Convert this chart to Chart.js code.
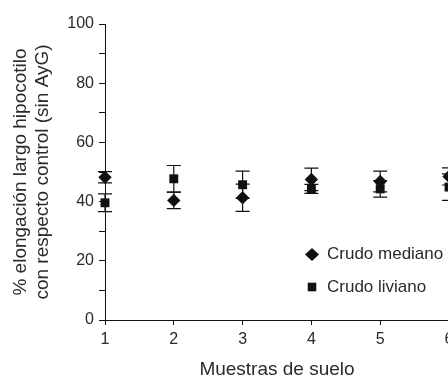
<!DOCTYPE html>
<html><head><meta charset="utf-8">
<script src="https://cdn.jsdelivr.net/npm/chart.js"></script>
<style>html,body{margin:0;padding:0;background:#fff;overflow:hidden}#wrap{width:470px;height:381px}</style>
</head><body><div id="wrap"><canvas id="c" width="470" height="381"></canvas></div>
<script>
const muestras = [1, 2, 3, 4, 5, 6];
const crudoMediano = [48.2, 40.4, 41.3, 47.5, 46.8, 48.5];
const crudoMedianoErr = [1.9, 2.8, 4.6, 3.8, 3.5, 2.9];
const crudoLiviano = [39.6, 47.7, 45.7, 44.3, 44.3, 44.9];
const crudoLivianoErr = [3.0, 4.5, 4.6, 1.5, 2.8, 4.5];
const yTickLabels = [0, 20, 40, 60, 80, 100];
const seriesNames = ['Crudo mediano', 'Crudo liviano'];
const yTitle = ['% elongación largo hipocotilo', 'con respecto control (sin AyG)'];
const xTitle = 'Muestras de suelo';

const FONT = "'Liberation Sans', Arial, sans-serif";
const INK = '#111';
const TXT = '#2a2a2a';

const errorBars = {
  id: 'errorBars',
  beforeDatasetsDraw(chart) {
    const ctx = chart.ctx, xs = chart.scales.x, ys = chart.scales.y;
    ctx.save();
    ctx.strokeStyle = INK;
    ctx.lineWidth = 1.2;
    chart.data.datasets.forEach(ds => {
      ds.data.forEach((p, i) => {
        const e = ds.errors[i];
        const x = xs.getPixelForValue(p.x);
        const y1 = ys.getPixelForValue(p.y + e);
        const y2 = ys.getPixelForValue(p.y - e);
        ctx.beginPath();
        ctx.moveTo(x, y1); ctx.lineTo(x, y2);
        ctx.moveTo(x - 7, y1); ctx.lineTo(x + 7, y1);
        ctx.moveTo(x - 7, y2); ctx.lineTo(x + 7, y2);
        ctx.stroke();
      });
    });
    ctx.restore();
  }
};

const customLegend = {
  id: 'customLegend',
  afterDraw(chart) {
    const ctx = chart.ctx;
    ctx.save();
    ctx.font = "17px " + FONT;
    ctx.textBaseline = 'middle';
    ctx.textAlign = 'left';
    const rows = [{y: 254.5, i: 0}, {y: 287, i: 1}];
    rows.forEach(r => {
      const ds = chart.data.datasets[r.i];
      const mx = 312;
      ctx.fillStyle = INK;
      ctx.beginPath();
      if (ds.pointStyle === 'rectRot') {
        ctx.moveTo(mx - 7, r.y); ctx.lineTo(mx, r.y - 6.5);
        ctx.lineTo(mx + 7, r.y); ctx.lineTo(mx, r.y + 6.5);
        ctx.closePath();
      } else {
        ctx.rect(mx - 4.3, r.y - 4.3, 8.6, 8.6);
      }
      ctx.fill();
      ctx.fillStyle = TXT;
      ctx.fillText(ds.label, 327, r.y);
    });
    ctx.restore();
  }
};

new Chart(document.getElementById('c'), {
  type: 'scatter',
  data: {
    datasets: [
      {
        label: seriesNames[0],
        data: muestras.map((m, i) => ({x: m, y: crudoMediano[i]})),
        errors: crudoMedianoErr,
        pointStyle: 'rectRot', pointRadius: 6.7, pointHoverRadius: 6.7,
        backgroundColor: INK, borderColor: INK, borderWidth: 0, clip: false
      },
      {
        label: seriesNames[1],
        data: muestras.map((m, i) => ({x: m, y: crudoLiviano[i]})),
        errors: crudoLivianoErr,
        pointStyle: 'rect', pointRadius: 6.3, pointHoverRadius: 6.3,
        backgroundColor: INK, borderColor: INK, borderWidth: 0, clip: false
      }
    ]
  },
  options: {
    responsive: false,
    animation: false,
    events: [],
    layout: {padding: {left: 0, top: 24, right: 21, bottom: 0}},
    plugins: {legend: {display: false}, tooltip: {enabled: false}},
    scales: {
      x: {
        type: 'linear', min: 1, max: 6,
        afterFit(s) { s.height = 61; },
        ticks: {stepSize: 1, padding: 5, color: TXT, font: {family: FONT, size: 16}},
        grid: {drawOnChartArea: false, drawTicks: true, tickLength: 5, color: INK, lineWidth: 1},
        border: {display: true, color: INK, width: 1},
        title: {display: true, text: xTitle, color: TXT, font: {family: FONT, size: 19}, padding: {top: 0, bottom: 0}}
      },
      y: {
        min: 0, max: 100,
        afterFit(s) { s.width = 105; },
        ticks: {stepSize: 10, padding: 5, color: TXT, font: {family: FONT, size: 16},
          callback: v => yTickLabels.includes(v) ? String(v) : ''},
        grid: {drawOnChartArea: false, drawTicks: true, tickLength: 6, color: INK, lineWidth: 1},
        border: {display: true, color: INK, width: 1},
        title: {display: true, text: yTitle, color: TXT, font: {family: FONT, size: 19, lineHeight: 1.2}, padding: {top: 9, bottom: 0}}
      }
    }
  },
  plugins: [errorBars, customLegend]
});
</script></body></html>
